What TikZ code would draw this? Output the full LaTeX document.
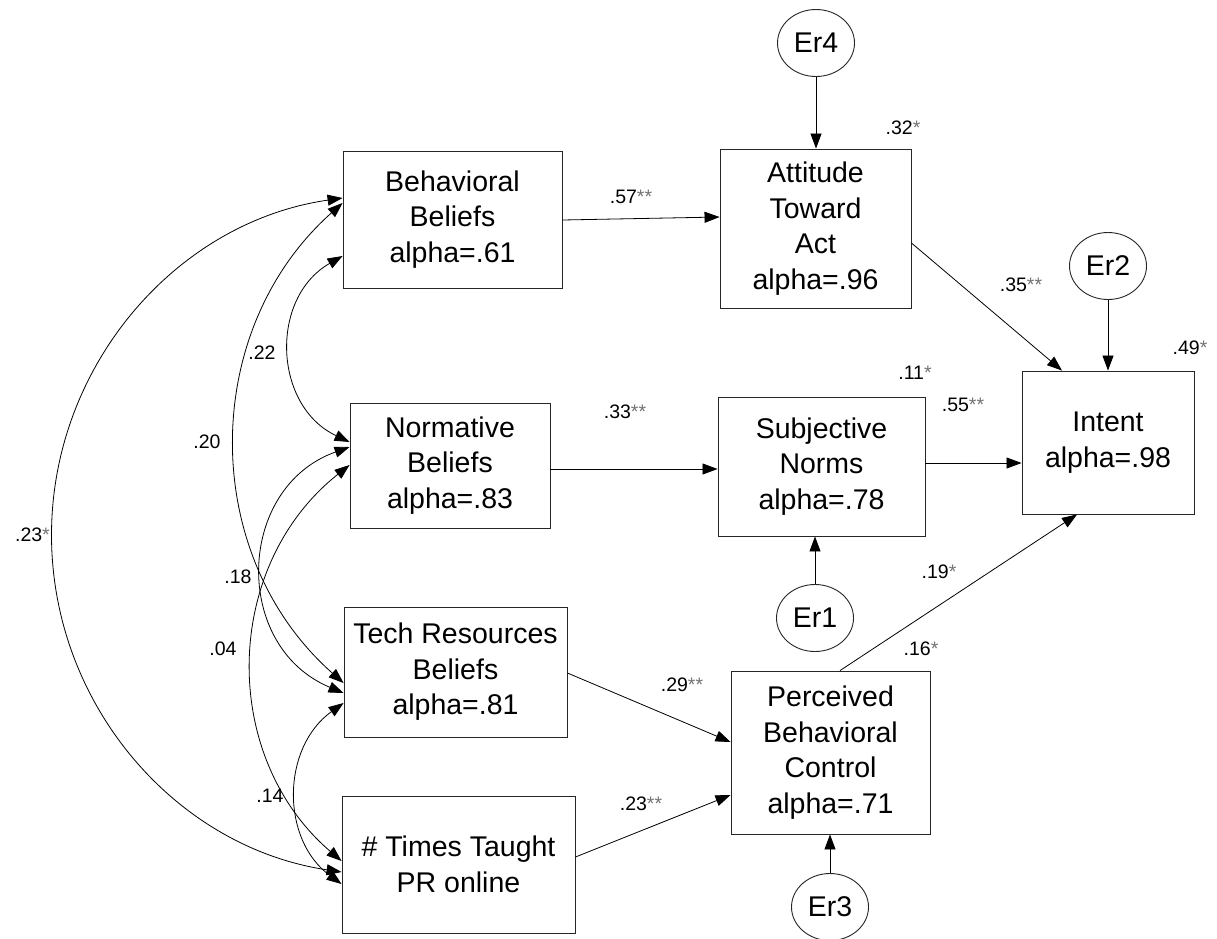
\documentclass[tikz,border=0pt]{standalone}
\usepackage{fontspec}
\setmainfont{Liberation Sans}
\usetikzlibrary{arrows.meta,shapes.geometric}
\newcommand\bxfont{\fontsize{28.5}{35.5}\selectfont}
\newcommand\lbfont{\fontsize{19.5}{22}\selectfont}
\newcommand\sgst{\textcolor{black!55}{*}}
\begin{document}
\begin{tikzpicture}[x=1pt,y=-1pt,
  box/.style={draw=black!85, line width=0.9pt, align=center, inner sep=0pt, font=\bxfont},
  err/.style={ellipse, draw=black!85, line width=0.9pt, minimum width=77pt, minimum height=67pt, inner sep=0pt, font=\bxfont},
  path/.style={line width=0.8pt, -{Triangle[length=15pt,width=11pt]}},
  cov/.style={line width=0.8pt, {Triangle[length=15pt,width=11pt]}-{Triangle[length=15pt,width=11pt]}},
  lab/.style={font=\lbfont, inner sep=0pt}]
\useasboundingbox (0,0) rectangle (1217,938);
\fill[white] (0,0) rectangle (1217,938);
\clip (0,0) rectangle (1217,938);

% boxes
\node[box, minimum width=219pt, minimum height=137pt] (B) at (452.5,219.5) {Behavioral\\Beliefs\\alpha=.61};
\node[box, minimum width=191pt, minimum height=159pt] (A) at (815.5,228.5) {Attitude\\Toward\\Act\\alpha=.96};
\node[box, minimum width=200pt, minimum height=125pt] (N) at (450,465.5) {Normative\\Beliefs\\alpha=.83};
\node[box, minimum width=207pt, minimum height=139pt] (S) at (821.5,466.5) {Subjective\\Norms\\alpha=.78};
\node[box, minimum width=172pt, minimum height=143pt] (I) at (1108,442.5) {Intent\\alpha=.98};
\node[box, minimum width=223pt, minimum height=130pt] (T) at (455.5,672) {Tech Resources\\Beliefs\\alpha=.81};
\node[box, minimum width=233pt, minimum height=137pt] (M) at (458.5,864.5) {\# Times Taught\\PR online};
\node[box, minimum width=199pt, minimum height=163pt] (P) at (830.5,752.5) {Perceived\\Behavioral\\Control\\alpha=.71};

% error terms
\node[err] (E4) at (816,43) {Er4};
\node[err] (E2) at (1108,266) {Er2};
\node[err] (E1) at (815,618) {Er1};
\node[err] (E3) at (830,907) {Er3};

% directed paths
\draw[path] (E4.south) -- (A.north -| E4.south);
\draw[path] (B.east |- 0,220) -- (A.west |- 0,217);
\draw[path] (A.east |- 0,243) -- (I.north -| 1062,0);
\draw[path] (E2.south) -- (I.north);
\draw[path] (N.east |- 0,469) -- (S.west |- 0,469);
\draw[path] (S.east |- 0,463) -- (I.west |- 0,463);
\draw[path] (E1.north) -- (S.south -| E1.north);
\draw[path] (P.north -| 840,0) -- (I.south -| 1077,0);
\draw[path] (T.east |- 0,673) -- (P.west |- 0,742);
\draw[path] (M.east |- 0,857) -- (P.west |- 0,795);
\draw[path] (E3.north) -- (P.south -| E3.north);

% covariances
\draw[cov] (B.west |- 0,198) .. controls (176,222) and (51.5,366) .. (51.5,535)
  .. controls (51.5,704) and (175,847) .. (M.west |- 0,872);
\draw[cov] (B.west |- 0,256) .. controls (269.3,297.9) and (273.2,406) .. (N.west |- 0,442);
\draw[cov] (B.west |- 0,203) .. controls (199.2,330.5) and (199.2,555.5) .. (T.west |- 0,683);
\draw[cov] (N.west |- 0,447) .. controls (236.2,487.3) and (231.7,646.3) .. (T.west |- 0,693);
\draw[cov] (N.west |- 0,465) .. controls (222.3,566) and (219.4,756.3) .. (M.west |- 0,861);
\draw[cov] (T.west |- 0,703) .. controls (281.4,747.4) and (280.6,839.4) .. (M.west |- 0,884);

% labels
\node[lab, anchor=east] (l23c) at (50,535) {.23\sgst};
\node[lab] (l22) at (262,353) {.22};
\node[lab] (l20) at (207,442) {.20};
\node[lab] (l18) at (238,577) {.18};
\node[lab] (l04) at (223,649) {.04};
\node[lab] (l14) at (270,796) {.14};
\node[lab] (l57) at (631,197) {.57\sgst\sgst};
\node[lab] (l32) at (903,128) {.32\sgst};
\node[lab] (l35) at (1021,285) {.35\sgst\sgst};
\node[lab] (l49) at (1190,348) {.49\sgst};
\node[lab] (l11) at (915,373) {.11\sgst};
\node[lab] (l33) at (625,412) {.33\sgst\sgst};
\node[lab] (l55) at (963,405) {.55\sgst\sgst};
\node[lab] (l19) at (939,572) {.19\sgst};
\node[lab] (l16) at (921,649) {.16\sgst};
\node[lab] (l29) at (682,685) {.29\sgst\sgst};
\node[lab] (l23p) at (641,804) {.23\sgst\sgst};
\end{tikzpicture}
\end{document}
